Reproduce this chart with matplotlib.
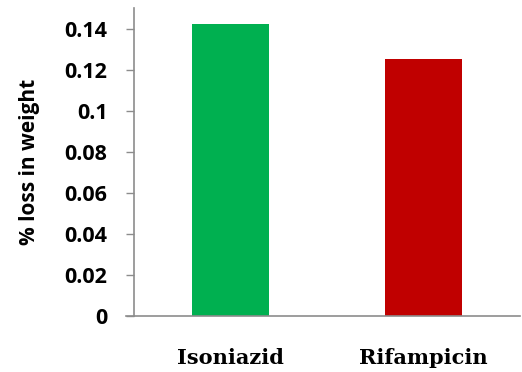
import matplotlib
matplotlib.use("Agg")
import matplotlib.pyplot as plt

categories = ["Isoniazid", "Rifampicin"]
values = [0.142, 0.125]
colors = ["#00B050", "#C00000"]
yticks = [0, 0.02, 0.04, 0.06, 0.08, 0.1, 0.12, 0.14]
ytick_labels = ["0", "0.02", "0.04", "0.06", "0.08", "0.1", "0.12", "0.14"]

fig = plt.figure(figsize=(5.22, 3.72), dpi=100)
ax = fig.add_axes([134/522, 1-316/372, (520-134)/522, (316-8)/372])

x = list(range(len(categories)))
ax.bar(x, values, width=0.4, color=colors)
ax.set_xlim(-0.5, 1.5)
ax.set_ylim(0, 0.15)
ax.set_yticks(yticks)
ax.set_yticklabels(ytick_labels, fontfamily="Open Sans", fontweight="bold", fontsize=15.5)
ax.set_xticks(x)
ax.set_xticklabels(categories, fontfamily="DejaVu Serif", fontweight="bold", fontsize=15)
ax.tick_params(axis="y", length=6, width=1, color="#8c8c8c", pad=13)
ax.tick_params(axis="x", length=0, pad=23)
for s in ["top", "right"]:
    ax.spines[s].set_visible(False)
for s in ["left", "bottom"]:
    ax.spines[s].set_color("#8c8c8c")
    ax.spines[s].set_linewidth(1.2)
ax.spines["bottom"].set_bounds(-0.54, 1.5)
ax.set_ylabel("% loss in weight", fontfamily="Open Sans", fontweight="bold", fontsize=15, labelpad=18)

fig.savefig("out.png", dpi=100)
